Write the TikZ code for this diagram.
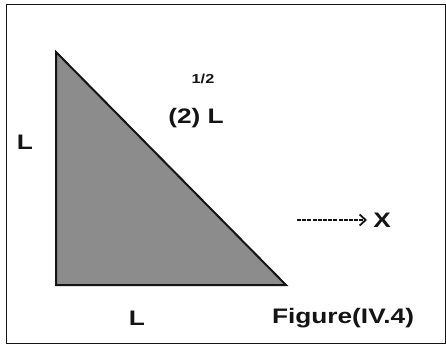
\documentclass[tikz,border=0pt]{standalone}
\usepackage{fontspec}
\setmainfont{Liberation Sans}
\usetikzlibrary{arrows.meta,positioning,calc}
\definecolor{ink}{RGB}{20,20,20}
\definecolor{hatchgray}{RGB}{140,140,140}
\tikzset{lbl/.style={font=\bfseries\fontsize{21}{21}\selectfont,text=ink,inner sep=1pt,xscale=1.25},small/.style={lbl,font=\bfseries\fontsize{13}{13}\selectfont},edge/.style={draw=ink,line width=2pt,line join=miter},frame/.style={draw=ink,line width=1pt},dir/.style={draw=ink,line width=2.6pt,dash pattern=on 4pt off 1.2pt,-{Straight Barb[length=6pt,width=11pt,line width=1.8pt]}}}

\begin{document}
\begin{tikzpicture}[x=1pt,y=1pt]
\useasboundingbox (0,0) rectangle (446,346);
\draw[frame] (6,3) rectangle (445,341);
\coordinate (top) at (56,294);\coordinate (corner) at (56,61);\coordinate (tip) at (286,61);
\fill[hatchgray] (top)--(corner)--(tip)--cycle;
\draw[edge] (top)--(corner)--(tip)--cycle;
\node[lbl] (side) at (25,204) {L};
\node[lbl] (base) at (137,28) {L};
\node[lbl] (hyp) at (196,228) {(2) L};
\node[small] (half) at (203,267) {1/2};
\node[lbl,inner sep=0pt] (xdir) at (382,126) {X};
\coordinate (xstart) at (297,126);
\draw[dir] (xstart)--($(xdir.west)+(-6,0)$);
\node[lbl] (cap) at (343,28) {Figure(IV.4)};
\end{tikzpicture}
\end{document}
